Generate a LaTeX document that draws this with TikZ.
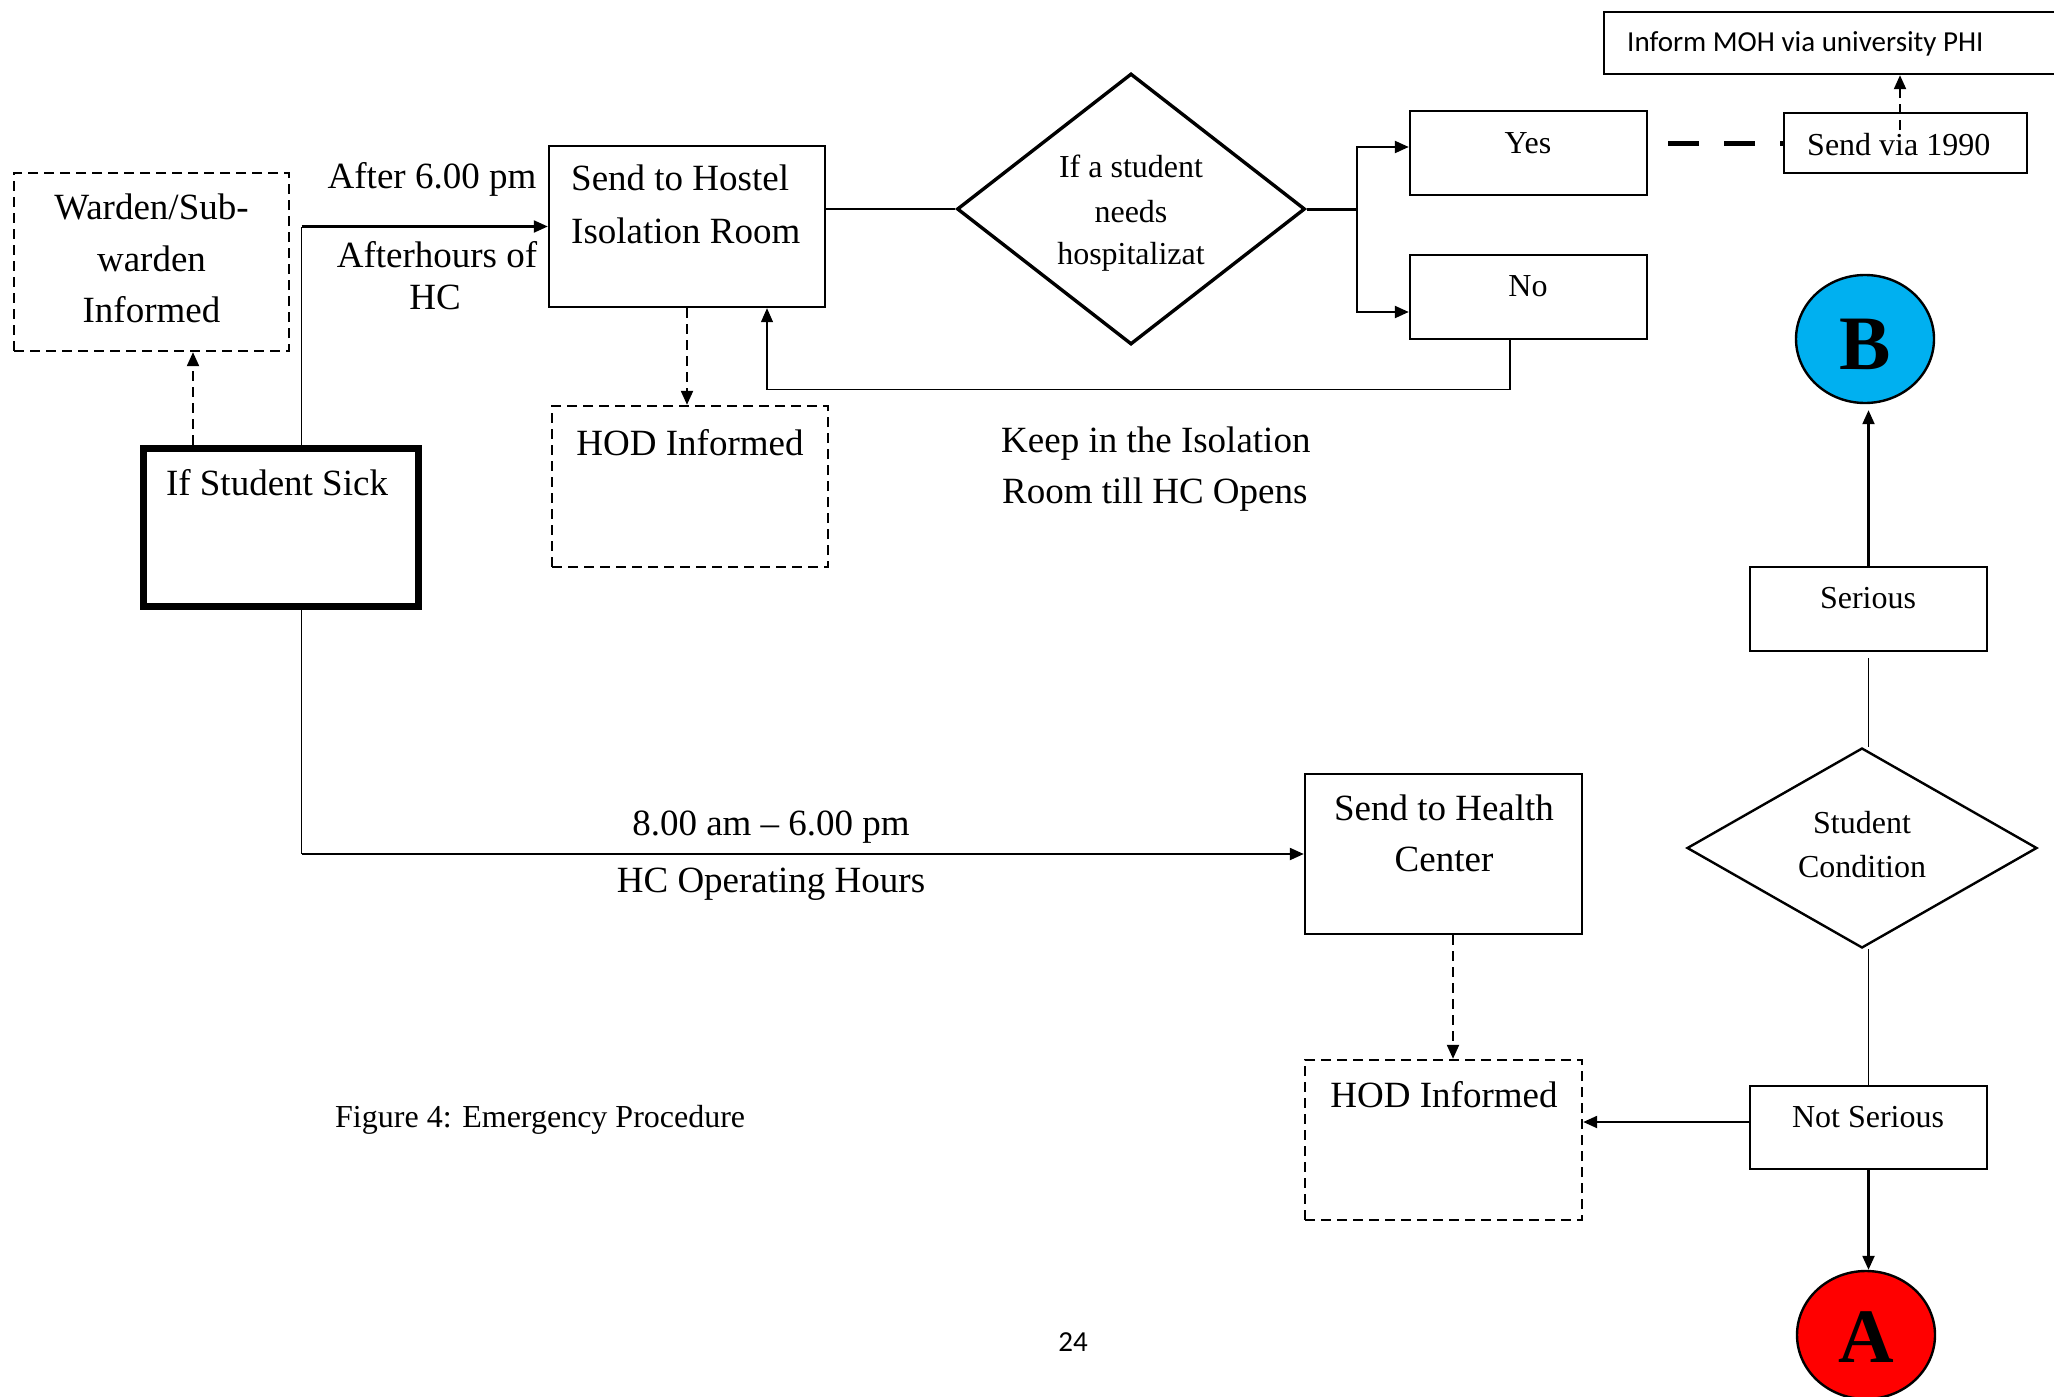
\documentclass[tikz,border=0pt]{standalone}
\usepackage{fontspec}
\setmainfont{Liberation Serif}
\newfontfamily\calfont{Carlito}
\usetikzlibrary{arrows.meta,shapes.geometric}
\newcommand\fM{\fontsize{37}{44}\selectfont}
\newcommand\fS{\fontsize{32}{38}\selectfont}
\newcommand\fC{\calfont\fontsize{29}{34}\selectfont}
\newcommand\fL{\bfseries\fontsize{77}{80}\selectfont}
\definecolor{cyanB}{RGB}{0,176,240}
\definecolor{redA}{RGB}{255,0,0}
\begin{document}
\begin{tikzpicture}[x=1pt,y=-1pt,
  box/.style={draw,line width=2.4pt,inner sep=0pt,minimum width=#1},
  dbox/.style={box=#1,dash pattern=on 10pt off 6pt},
  dia/.style={draw,diamond,inner sep=0pt,line width=2.4pt},
  circ/.style={draw,ellipse,line width=2.4pt,inner sep=0pt,minimum width=138pt,minimum height=128pt},
  tm/.style={anchor=base,inner sep=0pt,font=\fM},
  ts/.style={anchor=base,inner sep=0pt,font=\fS},
  thinl/.style={line width=1.3pt},
  arr/.style={line width=2.2pt,-{Triangle[length=14pt,width=12pt]}},
  tarr/.style={line width=1.3pt,-{Triangle[length=14pt,width=12pt]}},
  darr/.style={line width=2.2pt,dash pattern=on 10pt off 6pt,-{Triangle[length=14pt,width=12pt]}},
]
\useasboundingbox (0,0) rectangle (2054,1397);
\fill[white] (0,0) rectangle (2054,1397);

% boxes
\node[dbox=275pt,minimum height=178pt] (warden) at (151.5,262) {};
\node[box=275pt,minimum height=158pt,line width=7pt] (sick) at (280.5,527) {};
\node[box=276pt,minimum height=161pt] (iso) at (687,226.5) {};
\node[dbox=276pt,minimum height=161pt] (hod1) at (690,486.5) {};
\node[dia,minimum width=348pt,minimum height=271pt,line width=3.4pt] (diam1) at (1131,209) {};
\node[box=237pt,minimum height=84pt] (yes) at (1528.5,153) {};
\node[box=237pt,minimum height=84pt] (no) at (1528.5,297) {};
\node[box=243pt,minimum height=60pt] (send) at (1905.5,143) {};
\node[box=456pt,minimum height=62pt] (moh) at (1832,43) {};
\node[circ,fill=cyanB] (B) at (1865,339) {};
\node[box=237pt,minimum height=84pt] (serious) at (1868.5,609) {};
\node[dia,minimum width=350pt,minimum height=200pt] (diam2) at (1862,848) {};
\node[box=277pt,minimum height=160pt] (health) at (1443.5,854) {};
\node[dbox=277pt,minimum height=160pt] (hod2) at (1443.5,1140) {};
\node[box=237pt,minimum height=83pt] (notser) at (1868.5,1127.5) {};
\node[circ,fill=redA] (A) at (1866,1335) {};

% texts
\node[tm] at (151.5,219) {Warden/Sub-};
\node[tm] at (151.5,271) {warden};
\node[tm] at (151.5,322) {Informed};
\node[tm] at (432,188) {After 6.00 pm};
\node[tm] at (437,267) {Afterhours of};
\node[tm] at (435,309) {HC};
\node[tm] at (277,495) {If Student Sick};
\node[tm,anchor=base west] at (571,190) {Send to Hostel};
\node[tm,anchor=base west] at (571,243) {Isolation Room};
\node[tm] at (690,455) {HOD Informed};
\node[ts] at (1131,177) {If a student};
\node[ts] at (1131,222) {needs};
\node[ts] at (1131,264) {hospitalizat};
\node[ts] at (1528,153) {Yes};
\node[ts] at (1528,296) {No};
\node[tm,anchor=base west] at (1001,452) {Keep in the Isolation};
\node[tm,anchor=base west] at (1002,503) {Room till HC Opens};
\node[anchor=base west,inner sep=0pt,font=\fC] at (1627,52) {Inform MOH via university PHI};
\node[ts,anchor=base west] at (1807,155) {Send via 1990};
\node[anchor=base,inner sep=0pt,font=\fL] at (1865,369) {B};
\node[anchor=base,inner sep=0pt,font=\fL] at (1866,1362) {A};
\node[ts] at (1868,608) {Serious};
\node[ts] at (1862,833) {Student};
\node[ts] at (1862,877) {Condition};
\node[tm] at (1444,820) {Send to Health};
\node[tm] at (1444,871) {Center};
\node[tm] at (1444,1107) {HOD Informed};
\node[ts] at (1868,1127) {Not Serious};
\node[tm] at (771,835) {8.00 am -- 6.00 pm};
\node[tm] at (771,892) {HC Operating Hours};
\node[ts,anchor=base west] at (335,1127) {Figure 4: Emergency Procedure};
\node[anchor=base,inner sep=0pt,font=\fC] at (1073,1351) {24};

% connectors
\draw[darr] ([xshift=53.5pt]sick.north west) -- ([xshift=53.5pt]sick.north west |- warden.south);
\coordinate (c1) at ([xshift=162pt]sick.north west);
\draw[thinl] (c1) -- (c1 |- iso.west);
\draw[arr] (c1 |- iso.west) -- (iso.west);
\draw[thinl] (iso.east |- diam1.west) -- (diam1.west);
\coordinate (br) at (1357,209);
\draw[line width=3pt] (diam1.east) -- (br);
\draw[arr] (br) |- ([yshift=6pt]yes.west);
\draw[arr] (br) |- ([yshift=-15pt]no.west);
\draw[line width=5pt,dash pattern=on 31pt off 25pt] ([xshift=20pt]yes.east |- send.west) -- (send.west);
\coordinate (c2) at ([xshift=-5.5pt,yshift=13pt]send.center);
\draw[darr] (c2) -- (c2 |- moh.south);
\coordinate (c3) at ([xshift=-18.5pt]no.south);
\coordinate (c4) at ([xshift=80pt]iso.south);
\draw[tarr] (c3) -- ++(0,49) -| (c4);
\draw[darr] (iso.south) -- (iso.south |- hod1.north);
\coordinate (c5) at ([xshift=162pt]sick.south west);
\draw[thinl] (c5) -- (c5 |- health.west);
\draw[arr] (c5 |- health.west) -- (health.west);
\coordinate (c6) at ([xshift=9.5pt]health.south);
\draw[darr] (c6) -- (c6 |- hod2.north);
\coordinate (c7) at ([yshift=5.5pt]notser.west);
\draw[arr] (c7) -- (c7 -| hod2.east);
\draw[arr] (notser.south) -- (notser.south |- A.north);
\draw[arr] (serious.north) -- ([yshift=-6pt]B.south -| serious.north);
\coordinate (c8) at ([yshift=-6pt]serious.south);
\draw[thinl] (c8) -- (c8 |- diam2.north);
\draw[thinl] (notser.north |- diam2.south) -- (notser.north);
\end{tikzpicture}
\end{document}
